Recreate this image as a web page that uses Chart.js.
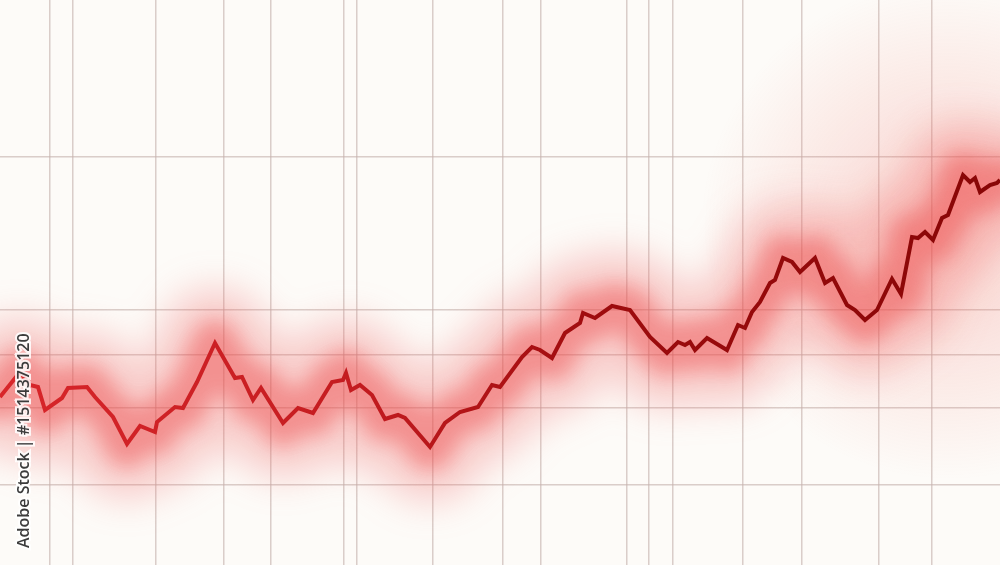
<!DOCTYPE html>
<html>
<head>
<meta charset="utf-8">
<script src="https://cdn.jsdelivr.net/npm/chart.js@4.4.1/dist/chart.umd.min.js"></script>
<style>
  html, body { margin: 0; padding: 0; background: #fdfbf8; }
  #wrap { width: 1000px; height: 565px; }
</style>
</head>
<body>
<div id="wrap"><canvas id="myChart" width="1000" height="565"></canvas></div>
<script>
// position along the time axis (0..1000) and price level
var days = [0, 20, 30, 38, 45, 62, 68, 87, 95, 113, 127, 140, 155, 157, 175, 183, 197, 215, 235, 242,
  253, 261, 283, 298, 313, 332, 343, 346, 351, 360, 372, 385, 398, 405, 430, 445, 460, 478, 492, 500,
  522, 532, 540, 552, 565, 580, 583, 595, 612, 630, 650, 667, 678, 685, 690, 695, 707, 727, 738, 745,
  752, 760, 770, 775, 783, 792, 800, 815, 825, 833, 847, 855, 865, 877, 892, 901, 912, 918, 925, 933,
  942, 948, 963, 970, 975, 980, 990, 997, 1000];
var prices = [168, 193, 180, 178, 155, 167, 177, 178, 168, 148, 121, 139, 133, 143, 158, 157, 183, 222, 187, 188,
  165, 177, 142, 157, 152, 183, 185, 192, 175, 180, 170, 146, 150, 147, 118, 142, 153, 158, 180, 178,
  208, 218, 215, 207, 232, 242, 252, 247, 259, 255, 228, 212, 223, 220, 223, 215, 227, 215, 240, 237,
  253, 263, 282, 285, 307, 303, 293, 307, 282, 287, 260, 255, 245, 255, 286, 271, 328, 327, 333, 325,
  347, 350, 390, 383, 387, 373, 380, 382, 385];

// irregular grid of the backdrop
var gridX = [50, 73, 156, 224, 271, 344, 357, 433, 503, 541, 627, 649, 673, 743, 802, 879, 932];
var gridY = [408, 255, 210, 157, 80];

var points = days.map(function (d, i) { return { x: d, y: prices[i] }; });

// blur for the glow copies of the line
var glowPlugin = {
  id: 'glow',
  beforeDatasetDraw: function (chart, args) {
    var ds = chart.data.datasets[args.index];
    chart.ctx.save();
    if (ds.blur) chart.ctx.filter = 'blur(' + ds.blur + 'px)';
  },
  afterDatasetDraw: function (chart) {
    chart.ctx.restore();
  }
};

// soft haze at upper right + watermark
var decoPlugin = {
  id: 'deco',
  beforeDatasetsDraw: function (chart) {
    var ctx = chart.ctx;
    ctx.save();
    var g = ctx.createRadialGradient(950, 230, 10, 950, 230, 250);
    g.addColorStop(0, 'rgba(240,110,100,0.28)');
    g.addColorStop(1, 'rgba(240,110,100,0)');
    ctx.fillStyle = g;
    ctx.fillRect(650, 0, 350, 565);
    ctx.restore();
  },
  afterDraw: function (chart) {
    var ctx = chart.ctx;
    ctx.save();
    ctx.translate(29, 548);
    ctx.rotate(-Math.PI / 2);
    ctx.font = '600 16px "Open Sans"';
    ctx.textBaseline = 'alphabetic';
    ctx.lineWidth = 4;
    ctx.strokeStyle = 'rgba(255,255,255,0.85)';
    ctx.strokeText('Adobe Stock | #1514375120', 0, 0);
    ctx.fillStyle = '#3c3c3c';
    ctx.fillText('Adobe Stock | #1514375120', 0, 0);
    ctx.restore();
  }
};

function lineGradient(context) {
  var area = context.chart.chartArea;
  if (!area) return '#b31717';
  var g = context.chart.ctx.createLinearGradient(area.left, 0, area.right, 0);
  g.addColorStop(0, '#d8262a');
  g.addColorStop(0.35, '#c41c20');
  g.addColorStop(0.6, '#9e0c0e');
  g.addColorStop(1, '#880606');
  return g;
}

var ctx = document.getElementById('myChart').getContext('2d');
var myChart = new Chart(ctx, {
  type: 'line',
  data: {
    datasets: [
      {
        data: points,
        borderColor: lineGradient,
        borderWidth: 4,
        pointRadius: 0,
        tension: 0,
        order: 0
      },
      {
        data: points,
        borderColor: 'rgba(235,55,55,0.40)',
        borderWidth: 45,
        pointRadius: 0,
        borderJoinStyle: 'round',
        borderCapStyle: 'round',
        blur: 10,
        order: 1
      },
      {
        data: points,
        borderColor: 'rgba(238,100,100,0.30)',
        borderWidth: 110,
        pointRadius: 0,
        borderJoinStyle: 'round',
        borderCapStyle: 'round',
        blur: 18,
        order: 2
      }
    ]
  },
  options: {
    responsive: false,
    animation: false,
    layout: { padding: 0 },
    plugins: { legend: { display: false }, tooltip: { enabled: false } },
    scales: {
      x: {
        type: 'linear',
        min: 0,
        max: 1000,
        afterBuildTicks: function (axis) {
          axis.ticks = gridX.map(function (v) { return { value: v }; });
        },
        ticks: { display: false },
        border: { display: false },
        grid: { color: 'rgba(195,175,170,0.6)', lineWidth: 1.5, drawTicks: false }
      },
      y: {
        type: 'linear',
        min: 0,
        max: 565,
        afterBuildTicks: function (axis) {
          axis.ticks = gridY.map(function (v) { return { value: v }; });
        },
        ticks: { display: false },
        border: { display: false },
        grid: { color: 'rgba(195,175,170,0.6)', lineWidth: 1.5, drawTicks: false }
      }
    }
  },
  plugins: [glowPlugin, decoPlugin]
});
</script>
</body>
</html>
